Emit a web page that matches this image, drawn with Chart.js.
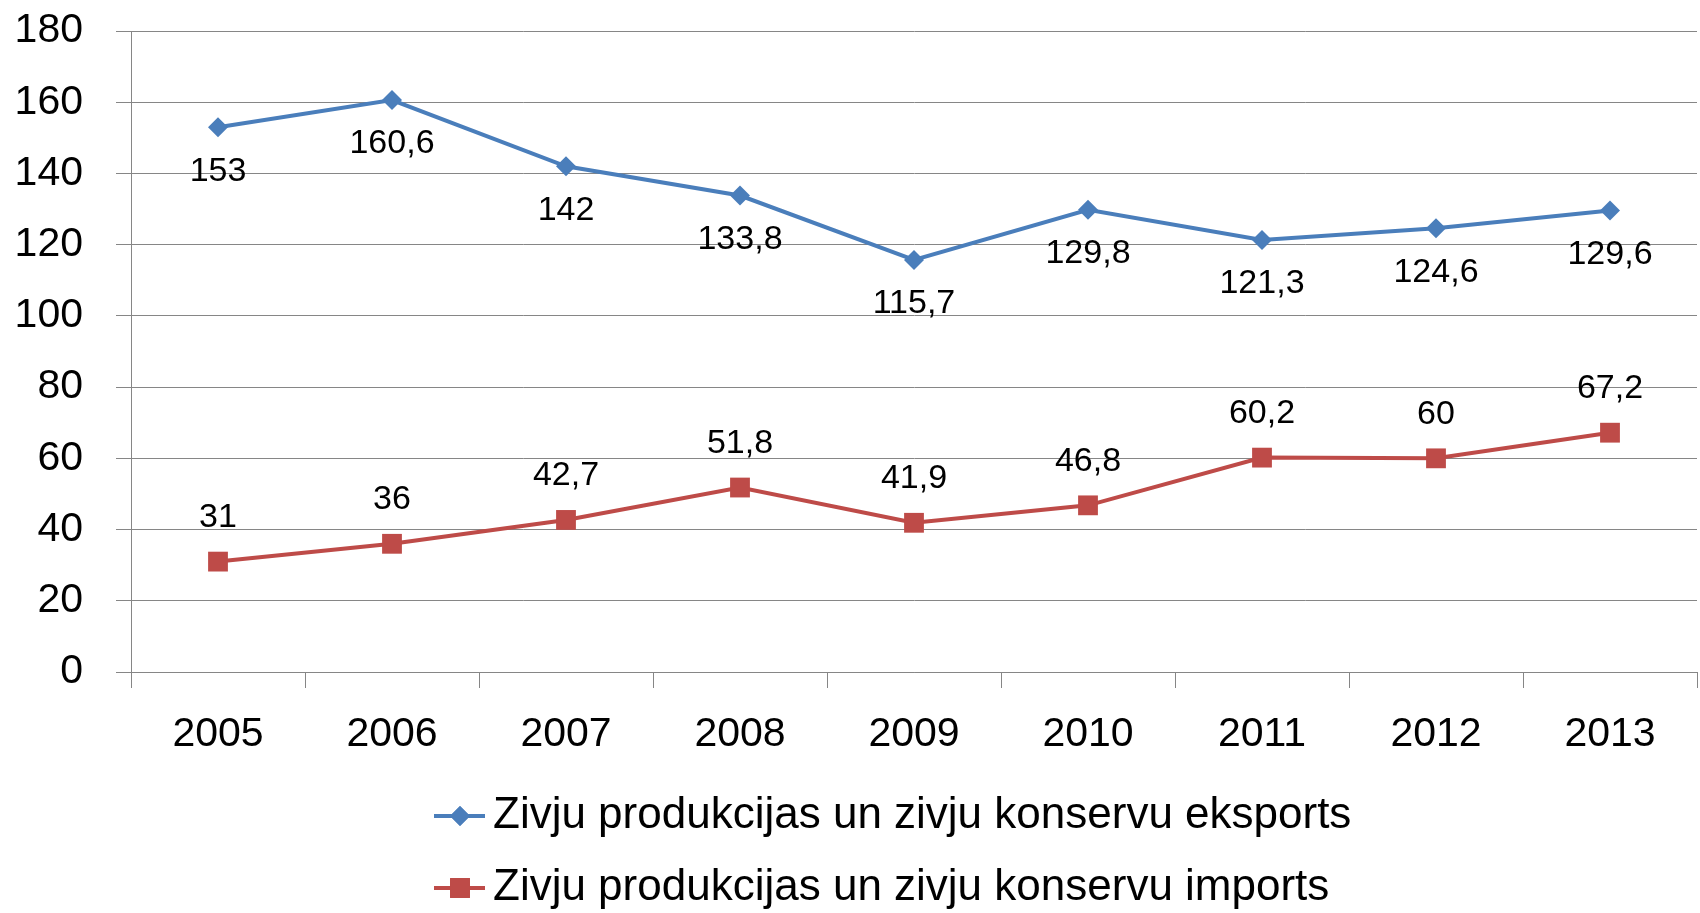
<!DOCTYPE html>
<html>
<head>
<meta charset="utf-8">
<script src="https://cdn.jsdelivr.net/npm/chart.js@4"></script>
<style>
  html, body { margin: 0; padding: 0; background: #fff; overflow: hidden; }
  #wrap { width: 1700px; height: 913px; }
  canvas { display: block; }
</style>
</head>
<body>
<div id="wrap"><canvas id="fish"></canvas></div>
<script>
// data
const years = ['2005', '2006', '2007', '2008', '2009', '2010', '2011', '2012', '2013'];
const exportValues = [153, 160.6, 142, 133.8, 115.7, 129.8, 121.3, 124.6, 129.6];
const importValues = [31, 36, 42.7, 51.8, 41.9, 46.8, 60.2, 60, 67.2];
const seriesNames = [
  'Zivju produkcijas un zivju konservu eksports',
  'Zivju produkcijas un zivju konservu imports'
];

const FONT = '"Liberation Sans", Arial, sans-serif';
const gridColor = '#868686';

// no extra room for overhanging tick labels, the plot box is set by hand
function noPad(s) {
  s.paddingLeft = 0;
  s.paddingRight = 0;
  s.paddingTop = 0;
  s.paddingBottom = 0;
}

// value labels next to the points (blue below, red above)
const valueLabels = {
  id: 'valueLabels',
  afterDatasetsDraw(chart) {
    const ctx = chart.ctx;
    ctx.save();
    ctx.font = '34px ' + FONT;
    ctx.fillStyle = '#000';
    ctx.textAlign = 'center';
    ctx.textBaseline = 'middle';
    chart.data.datasets.forEach((ds, i) => {
      const meta = chart.getDatasetMeta(i);
      const shift = i === 0 ? 44 : -44;
      meta.data.forEach((pt, j) => {
        const txt = String(ds.data[j]).replace('.', ',');
        ctx.fillText(txt, pt.x, pt.y + shift);
      });
    });
    ctx.restore();
  }
};

// two-row legend under the axis, line + marker like the original
const rowLegend = {
  id: 'rowLegend',
  afterDraw(chart) {
    const ctx = chart.ctx;
    ctx.save();
    chart.data.datasets.forEach((ds, i) => {
      const y = 816 + i * 72;
      ctx.strokeStyle = ds.borderColor;
      ctx.lineWidth = 4;
      ctx.beginPath();
      ctx.moveTo(434, y);
      ctx.lineTo(485, y);
      ctx.stroke();
      ctx.fillStyle = ds.backgroundColor;
      Chart.helpers.drawPoint(ctx, {
        pointStyle: ds.pointStyle,
        radius: ds.pointRadius,
        borderWidth: 0,
        rotation: 0
      }, 460, y);
      ctx.fill();
      ctx.fillStyle = '#000';
      ctx.font = '44px ' + FONT;
      ctx.textAlign = 'left';
      ctx.textBaseline = 'middle';
      ctx.fillText(ds.label, 493, y);
    });
    ctx.restore();
  }
};

new Chart(document.getElementById('fish'), {
  type: 'line',
  data: {
    labels: years,
    datasets: [{
      label: seriesNames[0],
      data: exportValues,
      borderColor: '#4A7EBB',
      backgroundColor: '#4A7EBB',
      borderWidth: 4,
      pointStyle: 'rectRot',
      pointRadius: 10,
      pointBorderWidth: 0,
      tension: 0
    }, {
      label: seriesNames[1],
      data: importValues,
      borderColor: '#BE4B48',
      backgroundColor: '#BE4B48',
      borderWidth: 4,
      pointStyle: 'rect',
      pointRadius: 14,
      pointBorderWidth: 0,
      tension: 0
    }]
  },
  options: {
    responsive: true,
    maintainAspectRatio: false,
    animation: false,
    layout: {
      autoPadding: false, // markers would otherwise push the plot in 14px
      padding: { top: 31, right: 3, bottom: 141, left: 0 }
    },
    plugins: {
      legend: { display: false },
      tooltip: { enabled: false }
    },
    scales: {
      x: {
        offset: true,
        grid: {
          offset: true,
          drawOnChartArea: false,
          drawTicks: true,
          tickLength: 16,
          color: gridColor
        },
        border: { color: gridColor },
        ticks: {
          color: '#000',
          padding: 22,
          font: { family: FONT, size: 41 },
          maxRotation: 0
        },
        afterFit(s) {
          s.height = 100;
          noPad(s);
        }
      },
      y: {
        min: 0,
        max: 180,
        grid: { color: gridColor, tickLength: 15 },
        border: { color: gridColor },
        ticks: {
          stepSize: 20,
          color: '#000',
          padding: 33,
          font: { family: FONT, size: 41 }
        },
        afterFit(s) {
          s.width = 131;
          noPad(s);
        }
      }
    }
  },
  plugins: [valueLabels, rowLegend]
});
</script>
</body>
</html>
